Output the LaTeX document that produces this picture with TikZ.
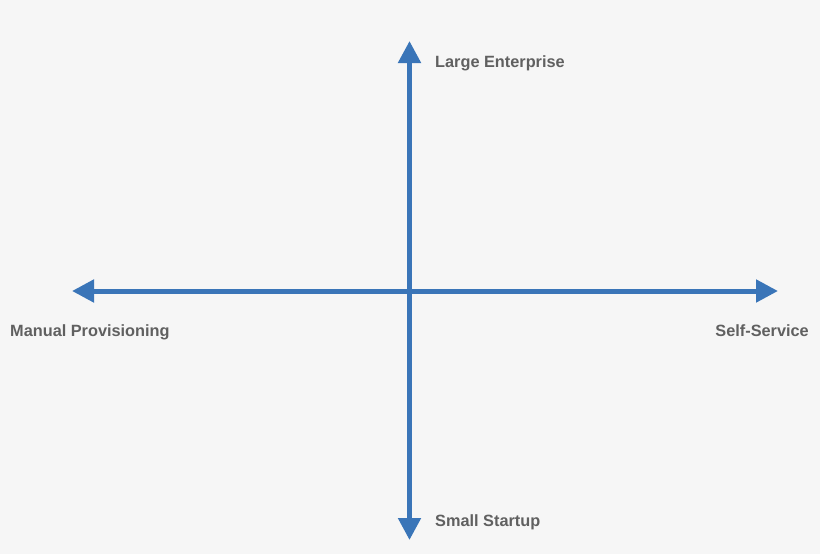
\documentclass[tikz,border=0pt]{standalone}
\usepackage{fontspec}
\setmainfont{Liberation Sans}
\usetikzlibrary{arrows.meta}
\definecolor{axisblue}{HTML}{3A75B8}
\definecolor{labelgray}{HTML}{606060}
\definecolor{bggray}{HTML}{F6F6F6}

\begin{document}
\begin{tikzpicture}%
    [x=1pt, y=-1pt,
    axis/.style={draw=axisblue, line width=5pt,
      {Triangle[width=22pt,length=22pt]}-{Triangle[width=22pt,length=22pt]}},
    axislabel/.style={text=labelgray, font=\bfseries\fontsize{16.3}{19}\selectfont, inner sep=0pt}]

    \fill [bggray] (0,0) rectangle (820,554);
    \useasboundingbox (0,0) rectangle (820,554);

    \coordinate (top)    at (409.5, 41);
    \coordinate (bottom) at (409.5, 540);
    \coordinate (left)   at (72, 291);
    \coordinate (right)  at (778, 291);

    \draw [axis] (bottom) to (top);
    \draw [axis] (left) to (right);

    \node [axislabel, anchor=base west] (large) at (435, 67.5) {Large Enterprise};
    \node [axislabel, anchor=base west] (small) at (435, 526.5) {Small Startup};
    \node [axislabel, anchor=base west] (manual) at (10, 336) {Manual Provisioning};
    \node [axislabel, anchor=base east] (self) at (809, 336) {Self-Service};
  \end{tikzpicture}
\end{document}
